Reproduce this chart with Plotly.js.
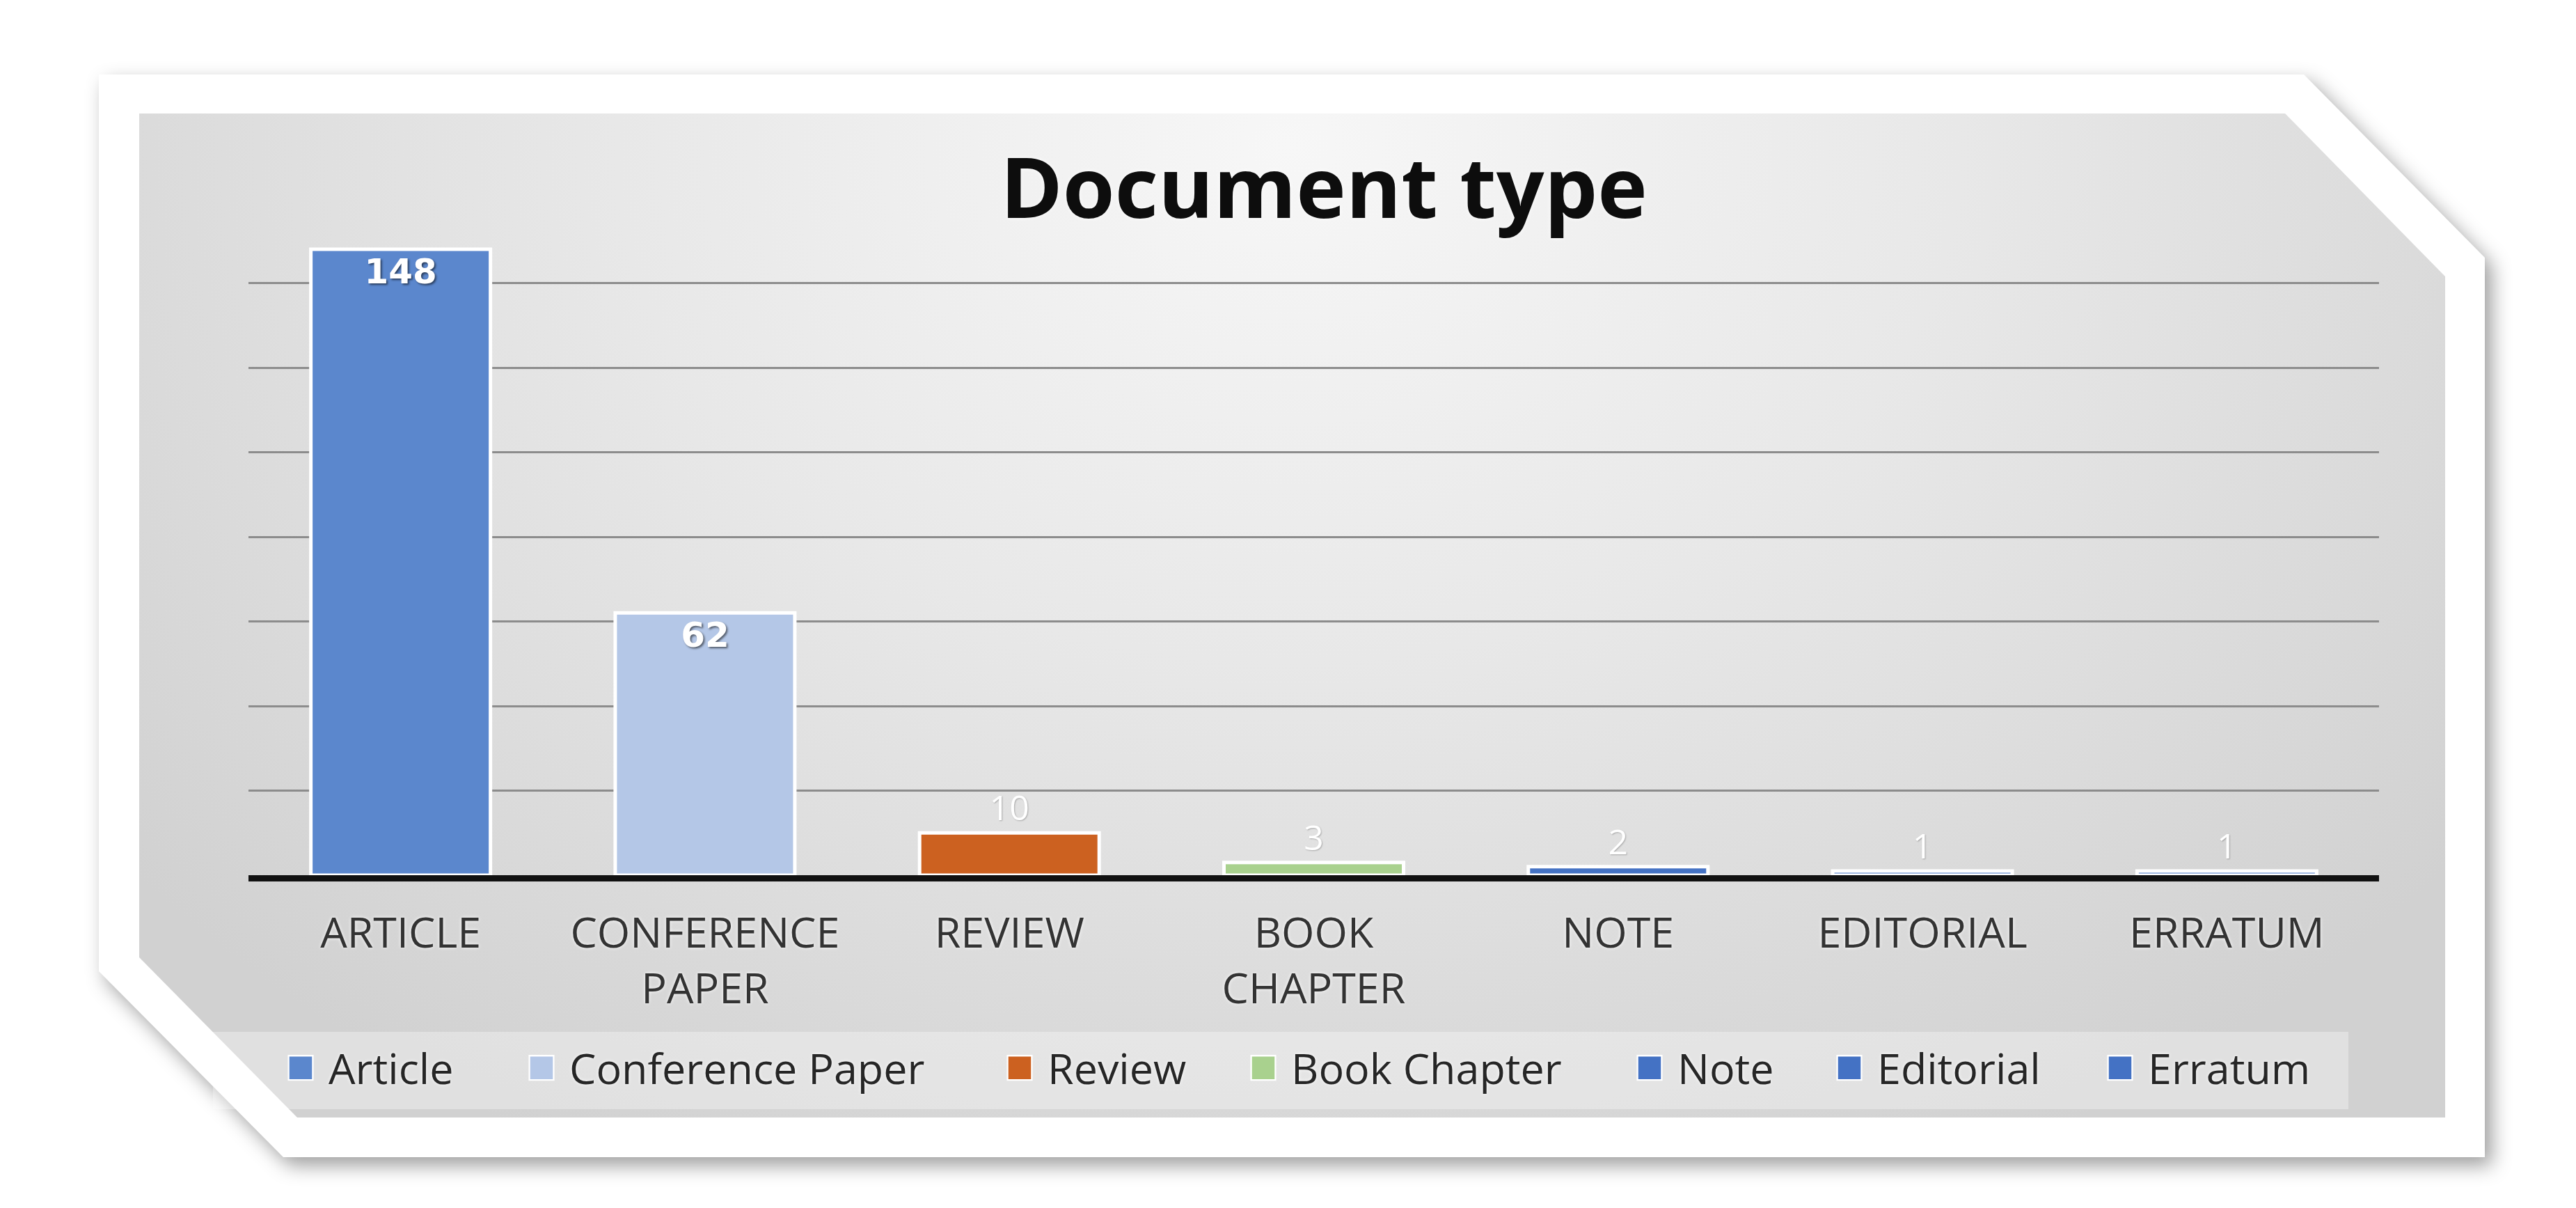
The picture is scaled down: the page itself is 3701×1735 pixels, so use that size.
<!DOCTYPE html>
<html lang="en">

<head>
    <meta charset="UTF-8">
    <title>Document type</title>
    <script src="https://cdn.plot.ly/plotly-3.0.1.min.js"></script>
    <style>
        body {
            margin: 0;
            width: 3701px;
            height: 1735px;
            background: #ffffff;
            overflow: hidden;
            position: relative;
        }

        #shadow {
            position: absolute;
            left: 0;
            top: 0;
            width: 3701px;
            height: 1735px;
            filter: drop-shadow(10px 12px 14px rgba(0, 0, 0, 0.38));
        }

        #frame {
            position: absolute;
            left: 0;
            top: 0;
            width: 3701px;
            height: 1735px;
            background: #ffffff;
            clip-path: polygon(142px 107px, 3310px 107px, 3570px 370px, 3570px 1662px, 407px 1662px, 142px 1395px);
        }

        #panel {
            position: absolute;
            left: 0;
            top: 0;
            width: 3701px;
            height: 1735px;
            background: radial-gradient(ellipse 58% 95% at 50% 12%, #f7f7f7 0%, #e8e8e8 45%, #d1d1d1 100%);
            clip-path: polygon(200px 163px, 3283px 163px, 3513px 397px, 3513px 1605px, 427px 1605px, 200px 1375px);
        }

        #plot {
            position: absolute;
            left: 0;
            top: 0;
            width: 3701px;
            height: 1735px;
        }
    </style>
</head>

<body>
    <div id="shadow"><div id="frame"></div></div>
    <div id="panel"></div>
    <div id="plot"></div>

    <script>
        // data
        const categories = ['Article', 'Conference Paper', 'Review', 'Book Chapter', 'Note', 'Editorial', 'Erratum'];
        const counts = [148, 62, 10, 3, 2, 1, 1];
        const tickLabels = ['ARTICLE', 'CONFERENCE<br>PAPER', 'REVIEW', 'BOOK<br>CHAPTER', 'NOTE', 'EDITORIAL', 'ERRATUM'];

        // styles
        const barColors = ['#5B87CD', '#B4C7E7', '#CC6120', '#A9D18E', '#4472C4', '#4472C4', '#4472C4'];
        const legendMarkerX = [432, 778, 1465, 1815, 2370, 2657, 3046];

        const W = 3701, H = 1735;
        const margin = {l: 357, r: 283, t: 285, b: 478};
        const plotW = W - margin.l - margin.r;
        const plotH = H - margin.t - margin.b;
        const toPaperX = px => (px - margin.l) / plotW;
        const toPaperY = py => (H - margin.b - py) / plotH;

        const legendY = 1 - 1534 / H;

        const traces = categories.map((name, i) => ({
            type: 'bar',
            name: name,
            x: [name],
            y: [counts[i]],
            legend: i === 0 ? 'legend' : 'legend' + (i + 1),
            marker: {color: barColors[i], line: {color: '#ffffff', width: 5}},
            text: [String(counts[i])],
            textposition: counts[i] > 20 ? 'inside' : 'outside',
            insidetextanchor: 'end',
            insidetextfont: {
                family: 'DejaVu Sans', size: 50, weight: 700, color: '#ffffff',
                shadow: '2px 2px 3px rgba(0,0,0,0.55)'
            },
            outsidetextfont: {
                family: 'Open Sans', size: 50, color: '#ffffff',
                shadow: '1px 1px 2px rgba(0,0,0,0.25)'
            },
            cliponaxis: false,
            hoverinfo: 'x+y'
        }));

        const layout = {
            width: W,
            height: H,
            margin: margin,
            paper_bgcolor: 'rgba(0,0,0,0)',
            plot_bgcolor: 'rgba(0,0,0,0)',
            barmode: 'overlay',
            bargap: 0.41,
            title: {
                text: 'Document type',
                font: {family: 'Open Sans', size: 121, weight: 700, color: '#0d0d0d', shadow: '0px 0px 6px #ffffff'},
                xref: 'container', yref: 'container',
                x: 1902 / W, y: 1 - 271 / H,
                xanchor: 'center', yanchor: 'middle'
            },
            xaxis: {
                type: 'category',
                tickvals: categories,
                ticktext: tickLabels,
                showline: true,
                linecolor: '#111111',
                linewidth: 9,
                ticks: '',
                ticklabelstandoff: 22,
                showgrid: false,
                tickfont: {family: 'Open Sans', size: 61, color: '#333333', shadow: '0px 0px 5px #ffffff'},
                fixedrange: true
            },
            yaxis: {
                range: [0, 160],
                tick0: 0,
                dtick: 20,
                showticklabels: false,
                showgrid: true,
                gridcolor: '#8c8c8c',
                gridwidth: 3,
                zeroline: false,
                showline: false,
                fixedrange: true
            },
            shapes: [{
                type: 'rect', layer: 'below',
                xref: 'paper', yref: 'paper',
                x0: toPaperX(306), x1: toPaperX(3374),
                y0: toPaperY(1593), y1: toPaperY(1482),
                fillcolor: 'rgba(255,255,255,0.32)',
                line: {width: 0}
            }],
            showlegend: true
        };

        legendMarkerX.forEach((mx, i) => {
            const key = i === 0 ? 'legend' : 'legend' + (i + 1);
            layout[key] = {
                xref: 'container', yref: 'container',
                x: (mx - 40) / W, y: legendY,
                xanchor: 'left', yanchor: 'middle',
                orientation: 'h',
                bgcolor: 'rgba(0,0,0,0)',
                borderwidth: 0,
                itemwidth: 70,
                itemclick: false,
                itemdoubleclick: false,
                font: {family: 'Open Sans', size: 61, color: '#262626', shadow: '0px 0px 5px #ffffff'}
            };
        });

        Plotly.newPlot('plot', traces, layout, {displayModeBar: false, responsive: false}).then(gd => {
            // the legend squares are tiny at this size, blow them up
            gd.querySelectorAll('.legendpoints path').forEach(p => {
                const t = p.getAttribute('transform') || '';
                p.setAttribute('transform', t + ' scale(2.9)');
                p.style.strokeWidth = '0.8px';
            });
        });
    </script>
</body>

</html>
